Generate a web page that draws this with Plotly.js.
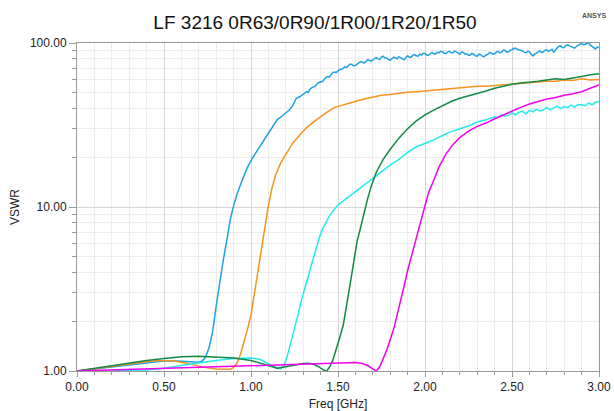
<!DOCTYPE html>
<html>
<head>
<meta charset="utf-8">
<script src="https://cdn.plot.ly/plotly-3.0.1.min.js"></script>
<style>
  html, body { margin: 0; padding: 0; background: #ffffff; }
  #chart { width: 614px; height: 411px; }
</style>
</head>
<body>
<div id="chart"></div>
<script>
// VSWR sweeps of the LF 3216 ferrite parts, frequency in GHz
const seriesNames = ['0R63', '0R90', '1R00', '1R20', '1R50'];

const f0R63 = [0, 0.1, 0.2, 0.3, 0.4, 0.5, 0.55, 0.6, 0.65, 0.7, 0.72, 0.74, 0.76, 0.78, 0.8, 0.82, 0.84, 0.86, 0.88, 0.9,
  0.92, 0.95, 0.98, 1.01, 1.04, 1.07, 1.1, 1.13, 1.15, 1.18, 1.2, 1.22, 1.24, 1.26, 1.28,
  1.30, 1.32, 1.33, 1.34, 1.35, 1.36, 1.37, 1.38, 1.39, 1.40, 1.41, 1.42, 1.43, 1.44, 1.45, 1.46, 1.47, 1.48, 1.49,
  1.50, 1.51, 1.52, 1.53, 1.54, 1.55, 1.56, 1.57, 1.58, 1.59, 1.60, 1.61, 1.62, 1.63, 1.64, 1.65, 1.66, 1.67, 1.68, 1.69,
  1.70, 1.71, 1.72, 1.73, 1.74, 1.75, 1.76, 1.77, 1.78, 1.79, 1.80, 1.81, 1.82, 1.83, 1.84, 1.85, 1.86, 1.87, 1.88, 1.89,
  1.90, 1.91, 1.92, 1.93, 1.94, 1.95, 1.96, 1.97, 1.98, 1.99, 2.00, 2.01, 2.02, 2.03, 2.04, 2.05, 2.06, 2.07, 2.08, 2.09,
  2.10, 2.11, 2.12, 2.13, 2.14, 2.15, 2.16, 2.17, 2.18, 2.19, 2.20, 2.21, 2.22, 2.23, 2.24, 2.25, 2.26, 2.27, 2.28, 2.29,
  2.30, 2.31, 2.32, 2.33, 2.34, 2.35, 2.36, 2.37, 2.38, 2.39, 2.40, 2.41, 2.42, 2.43, 2.44, 2.45, 2.46, 2.47, 2.48, 2.49,
  2.50, 2.51, 2.52, 2.53, 2.54, 2.55, 2.56, 2.57, 2.58, 2.59, 2.60, 2.61, 2.62, 2.63, 2.64, 2.65, 2.66, 2.67, 2.68, 2.69,
  2.70, 2.71, 2.72, 2.73, 2.74, 2.75, 2.76, 2.77, 2.78, 2.79, 2.80, 2.81, 2.82, 2.83, 2.84, 2.85, 2.86, 2.87, 2.88, 2.89,
  2.90, 2.91, 2.92, 2.93, 2.94, 2.95, 2.96, 2.97, 2.98, 2.99, 3.00];
const v0R63 = [1.0, 1.03, 1.06, 1.09, 1.12, 1.15, 1.155, 1.15, 1.135, 1.13, 1.15, 1.22, 1.4, 1.75, 2.5, 3.5, 4.7, 6.2, 8.3, 10.2,
  12.0, 14.6, 17.5, 20.0, 22.5, 25.3, 28.0, 31.5, 34.0, 36.0, 37.5, 39.0, 41.5, 46.0, 47.0,
  48.5, 50.5, 50.0, 52.5, 53.5, 54.0, 54.5, 56.5, 57.5, 58.0, 58.0, 60.0, 61.5, 62.5, 62.0, 64.0, 66.0, 66.5, 66.0,
  67.5, 69.0, 69.0, 70.5, 71.5, 71.0, 72.5, 74.5, 74.0, 72.5, 73.0, 74.5, 75.5, 77.0, 76.5, 75.5, 77.0, 79.0, 78.5, 77.5,
  79.0, 80.5, 81.5, 80.0, 79.5, 82.0, 83.0, 81.0, 81.0, 79.5, 78.5, 80.5, 82.0, 81.0, 80.0, 82.5, 81.5, 80.0, 79.0, 81.5,
  83.5, 82.0, 82.0, 84.0, 85.0, 83.5, 83.0, 85.5, 84.5, 86.5, 86.0, 84.5, 84.0, 86.0, 87.5, 86.0, 85.5, 88.0, 87.0, 89.0,
  88.5, 86.5, 86.0, 88.0, 89.0, 87.5, 87.0, 89.5, 88.0, 86.5, 85.5, 88.0, 87.5, 85.5, 86.0, 84.0, 84.5, 86.5, 85.5, 83.5,
  83.0, 85.5, 85.0, 83.0, 82.5, 84.5, 85.0, 87.5, 87.0, 85.5, 86.0, 88.0, 89.0, 87.0, 88.0, 90.5, 90.0, 88.0, 88.5, 90.5,
  91.0, 92.5, 93.0, 91.5, 91.0, 90.0, 89.5, 88.0, 87.0, 89.0, 88.5, 85.5, 83.5, 85.5, 87.0, 88.5, 89.5, 87.5, 88.0, 90.5,
  91.0, 89.0, 90.0, 91.5, 88.0, 91.0, 93.5, 95.5, 96.0, 93.5, 94.0, 96.5, 97.5, 96.0, 95.0, 93.5, 93.0, 95.5, 97.0, 98.5,
  99.5, 97.5, 98.0, 99.8, 99.8, 97.0, 95.0, 93.5, 92.0, 94.5, 94.0];

const f0R90 = [0, 0.1, 0.2, 0.3, 0.4, 0.45, 0.5, 0.55, 0.6, 0.65, 0.7, 0.75, 0.8, 0.85, 0.88, 0.9, 0.92, 0.94, 0.96, 0.98,
  1.0, 1.02, 1.04, 1.06, 1.08, 1.1, 1.12, 1.14, 1.17, 1.2, 1.24, 1.28, 1.32, 1.36, 1.4, 1.44, 1.48, 1.52, 1.56, 1.6,
  1.65, 1.7, 1.75, 1.8, 1.85, 1.9, 1.95, 2.0, 2.05, 2.1, 2.15, 2.2, 2.25, 2.3, 2.35, 2.4, 2.45, 2.5, 2.55, 2.6,
  2.65, 2.7, 2.75, 2.8, 2.85, 2.9, 2.95, 3.0];
const v0R90 = [1.0, 1.035, 1.07, 1.105, 1.14, 1.155, 1.16, 1.155, 1.13, 1.1, 1.07, 1.045, 1.028, 1.02, 1.025, 1.05, 1.12, 1.27, 1.5, 1.8,
  2.2, 3.0, 4.0, 5.5, 7.4, 10.2, 13.0, 15.5, 18.5, 21.0, 24.5, 27.5, 30.5, 33.0, 35.5, 38.0, 40.5, 41.5, 42.5, 44.0,
  45.5, 46.5, 48.0, 48.5, 49.5, 50.0, 50.5, 51.0, 51.5, 52.0, 52.5, 53.5, 54.0, 54.5, 54.5, 55.0, 56.0, 56.5, 57.0, 57.0,
  57.5, 58.5, 58.5, 59.5, 59.0, 60.5, 59.5, 60.0];

const f1R00 = [0, 0.2, 0.4, 0.5, 0.6, 0.7, 0.8, 0.9, 0.95, 1.0, 1.05, 1.1, 1.15, 1.17, 1.19, 1.21, 1.23, 1.25, 1.27, 1.29,
  1.31, 1.33, 1.35, 1.37, 1.39, 1.41, 1.43, 1.45, 1.47, 1.5, 1.55, 1.6, 1.65, 1.7, 1.75, 1.8, 1.85, 1.9, 1.95, 2.0,
  2.05, 2.1, 2.15, 2.2, 2.25, 2.3, 2.35, 2.4, 2.42, 2.44, 2.46, 2.48, 2.5, 2.52, 2.54, 2.56, 2.58, 2.6, 2.62, 2.64,
  2.66, 2.68, 2.7, 2.72, 2.74, 2.76, 2.78, 2.8, 2.82, 2.84, 2.86, 2.88, 2.9, 2.92, 2.94, 2.96, 2.98, 3.0];
const v1R00 = [1.0, 1.0, 1.015, 1.04, 1.08, 1.12, 1.16, 1.19, 1.2, 1.2, 1.18, 1.11, 1.04, 1.03, 1.08, 1.25, 1.5, 1.8, 2.2, 2.7,
  3.2, 3.8, 4.6, 5.5, 6.4, 7.3, 8.1, 8.8, 9.4, 10.3, 11.3, 12.4, 13.6, 15.0, 16.5, 18.0, 19.5, 21.5, 23.3, 24.5,
  25.6, 27.3, 28.8, 30.0, 31.2, 33.0, 34.0, 35.5, 35.0, 36.5, 35.8, 36.2, 37.5, 36.5, 37.8, 38.3, 37.0, 38.8, 38.0, 39.5,
  38.5, 39.0, 40.5, 39.2, 40.0, 41.2, 39.8, 41.0, 40.5, 41.8, 40.6, 42.2, 42.0, 41.5, 43.0, 42.0, 43.5, 44.0];

const f1R20 = [0, 0.1, 0.2, 0.3, 0.4, 0.5, 0.6, 0.7, 0.8, 0.9, 1.0, 1.05, 1.1, 1.15, 1.2, 1.25, 1.3, 1.33, 1.36, 1.39,
  1.42, 1.435, 1.45, 1.47, 1.49, 1.51, 1.53, 1.55, 1.57, 1.59, 1.61, 1.63, 1.65, 1.67, 1.69, 1.72, 1.76, 1.8, 1.85, 1.9,
  1.95, 2.0, 2.05, 2.1, 2.15, 2.2, 2.25, 2.3, 2.35, 2.4, 2.45, 2.5, 2.55, 2.6, 2.65, 2.7, 2.75, 2.8, 2.85, 2.9,
  2.95, 3.0];
const v1R20 = [1.0, 1.04, 1.08, 1.12, 1.16, 1.19, 1.22, 1.23, 1.22, 1.2, 1.16, 1.12, 1.07, 1.04, 1.06, 1.09, 1.11, 1.115, 1.1, 1.06,
  1.01, 1.0, 1.05, 1.16, 1.35, 1.6, 1.9, 2.5, 3.4, 4.6, 6.2, 7.5, 9.3, 11.2, 13.3, 16.3, 19.5, 22.5, 26.3, 30.0,
  33.5, 36.5, 39.0, 41.5, 44.0, 46.0, 47.5, 49.5, 51.0, 53.0, 54.5, 56.0, 57.0, 57.5, 58.5, 59.5, 60.5, 60.0, 61.0, 62.5,
  64.0, 65.0];

const f1R50 = [0, 0.2, 0.4, 0.6, 0.8, 1.0, 1.2, 1.4, 1.5, 1.55, 1.6, 1.64, 1.67, 1.7, 1.72, 1.74, 1.76, 1.78, 1.8, 1.82,
  1.84, 1.86, 1.88, 1.9, 1.92, 1.94, 1.96, 1.98, 2.0, 2.02, 2.05, 2.08, 2.12, 2.16, 2.2, 2.25, 2.3, 2.35, 2.4, 2.45,
  2.5, 2.55, 2.6, 2.65, 2.7, 2.75, 2.8, 2.85, 2.9, 2.95, 3.0];
const v1R50 = [1.0, 1.015, 1.03, 1.045, 1.06, 1.075, 1.09, 1.11, 1.125, 1.13, 1.125, 1.11, 1.08, 1.03, 1.0, 1.06, 1.18, 1.34, 1.55, 1.8,
  2.2, 2.65, 3.3, 4.1, 4.9, 6.0, 7.2, 8.5, 10.2, 12.2, 14.5, 17.5, 21.0, 24.0, 26.5, 29.0, 31.0, 32.5, 34.5, 36.5,
  38.5, 40.5, 42.5, 44.0, 45.5, 46.5, 48.0, 49.0, 50.5, 53.0, 55.5];

const xTickVals = [0, 0.5, 1.0, 1.5, 2.0, 2.5, 3.0];
const yTickVals = [1, 10, 100];
const yMinorVals = [2, 3, 4, 5, 6, 7, 8, 9, 20, 30, 40, 50, 60, 70, 80, 90];

const seriesX = [f0R63, f0R90, f1R00, f1R20, f1R50];
const seriesY = [v0R63, v0R90, v1R00, v1R20, v1R50];
const seriesColors = ['#1fa2e4', '#f7931e', '#22ecec', '#138845', '#f200f2'];

const traces = seriesNames.map((name, i) => ({
  type: 'scatter',
  mode: 'lines',
  name: name,
  x: seriesX[i],
  y: seriesY[i],
  line: { color: seriesColors[i], width: 1.5 },
  hoverinfo: 'x+y+name'
}));

const font = 'Liberation Sans, Arial, sans-serif';

const layout = {
  width: 614,
  height: 411,
  margin: { l: 77, r: 15, t: 43, b: 40 },
  paper_bgcolor: '#ffffff',
  plot_bgcolor: '#ffffff',
  showlegend: false,
  title: {
    text: 'LF 3216 0R63/0R90/1R00/1R20/1R50',
    font: { family: font, size: 19, color: '#111111' },
    xref: 'container', x: 0.513,
    yref: 'container', y: 0.945, yanchor: 'middle'
  },
  xaxis: {
    range: [0, 3],
    tickmode: 'array',
    tickvals: xTickVals,
    tickformat: '.2f',
    ticks: 'outside',
    ticklen: 5,
    tickcolor: '#9a9a9a',
    showline: true,
    linecolor: '#9a9a9a',
    linewidth: 1,
    mirror: true,
    showgrid: true,
    gridcolor: '#d6d6d6',
    zeroline: false,
    tickfont: { family: font, size: 12, color: '#222222' },
    minor: { dtick: 0.1, tick0: 0, showgrid: true, gridcolor: '#ededed', ticks: 'outside', ticklen: 3, tickcolor: '#9a9a9a' },
    title: { text: 'Freq [GHz]', font: { family: font, size: 12, color: '#222222' }, standoff: 6 },
    automargin: false
  },
  yaxis: {
    type: 'log',
    range: [0, 2],
    tickmode: 'array',
    tickvals: yTickVals,
    tickformat: '.2f',
    ticks: 'outside',
    ticklen: 7,
    tickcolor: '#9a9a9a',
    showline: true,
    linecolor: '#9a9a9a',
    linewidth: 1,
    mirror: true,
    showgrid: true,
    gridcolor: '#d6d6d6',
    zeroline: false,
    tickfont: { family: font, size: 12, color: '#222222' },
    minor: { tickmode: 'array', tickvals: yMinorVals, showgrid: true, gridcolor: '#ededed', ticks: 'outside', ticklen: 4, tickcolor: '#9a9a9a' },
    title: { text: 'VSWR', font: { family: font, size: 12, color: '#222222' }, standoff: 7 },
    automargin: false
  },
  annotations: [{
    text: '<b>ANSYS</b>',
    xref: 'paper', yref: 'paper',
    x: 1.017, y: 1.085, xanchor: 'right', yanchor: 'middle',
    showarrow: false,
    font: { family: font, size: 7, color: '#555555' }
  }]
};

Plotly.newPlot('chart', traces, layout, { displayModeBar: false, staticPlot: true });
</script>
</body>
</html>
